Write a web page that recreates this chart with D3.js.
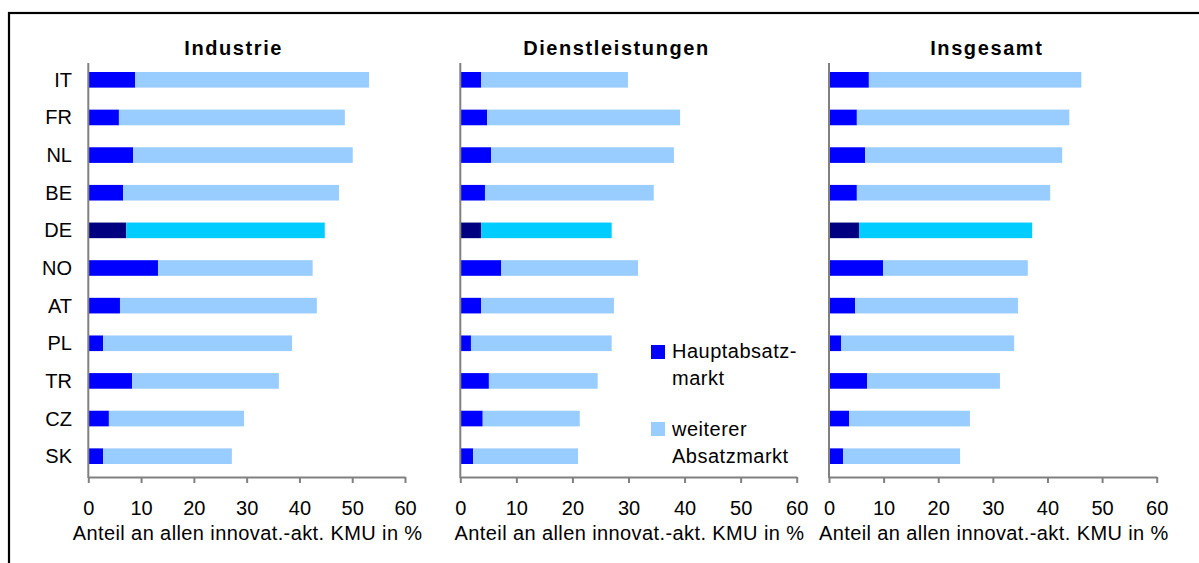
<!DOCTYPE html>
<html><head><meta charset="utf-8">
<script src="https://cdn.jsdelivr.net/npm/d3@7"></script>
<style>
html,body{margin:0;padding:0;background:#fff;}
svg{display:block;font-family:"Liberation Sans",Arial,sans-serif;}
</style></head>
<body>
<svg id="chart" width="1199" height="563"></svg>
<script>
const categories = ["IT","FR","NL","BE","DE","NO","AT","PL","TR","CZ","SK"];
const panelTitles = ["Industrie","Dienstleistungen","Insgesamt"];
const seriesNames = ["Hauptabsatz-\nmarkt","weiterer\nAbsatzmarkt"];
const xTicks = [0,10,20,30,40,50,60];
const axisTitle = "Anteil an allen innovat.-akt. KMU in %";

const industrieHaupt    = [8.9, 5.8, 8.5, 6.6, 7.2, 13.2, 6.0, 2.8, 8.3, 3.9, 2.8];
const industrieWeiterer = [44.3, 42.8, 41.6, 40.9, 37.6, 29.3, 37.3, 35.8, 27.8, 25.6, 24.4];
const dienstHaupt       = [3.7, 4.8, 5.5, 4.4, 3.7, 7.3, 3.7, 1.9, 5.1, 4.0, 2.3];
const dienstWeiterer    = [26.2, 34.4, 32.6, 30.1, 23.3, 24.4, 23.7, 25.1, 19.4, 17.3, 18.7];
const gesamtHaupt       = [7.3, 5.1, 6.6, 5.1, 5.5, 9.9, 4.8, 2.2, 7.0, 3.7, 2.6];
const gesamtWeiterer    = [38.9, 38.9, 36.1, 35.4, 31.7, 26.5, 29.8, 31.7, 24.3, 22.1, 21.4];

const panelsData = [
  [industrieHaupt, industrieWeiterer],
  [dienstHaupt, dienstWeiterer],
  [gesamtHaupt, gesamtWeiterer]
];

const colors = {haupt:"#0000FF", weiter:"#99CCFF", hauptDE:"#000080", weiterDE:"#00CCFF"};
const highlight = "DE";

const svg = d3.select("#chart");
// outer frame
svg.append("rect").attr("x",9).attr("y",13).attr("width",1300).attr("height",700)
  .attr("fill","none").attr("stroke","#000").attr("stroke-width",2.2);

const panelX = [[88.3,405],[460.3,796.7],[829,1156.7]];
const titleShift = [-13,-12,-6];
const plotTop = 63, plotBottom = 477;
const y = d3.scaleBand().domain(categories).range([61,475]).paddingInner(0.585).paddingOuter(0.2925);

panelsData.forEach((pd, pi) => {
  const x = d3.scaleLinear().domain([0,60]).range(panelX[pi]);
  const g = svg.append("g");
  const rows = categories.map((c,i)=>({cat:c, haupt:pd[0][i], weiter:pd[1][i]}));
  const stack = d3.stack().keys(["haupt","weiter"])(rows);
  stack.forEach(layer => {
    g.selectAll(null).data(layer).enter().append("rect")
      .attr("x", d => x(d[0]))
      .attr("width", d => x(d[1]) - x(d[0]))
      .attr("y", d => y(d.data.cat))
      .attr("height", y.bandwidth())
      .attr("fill", d => d.data.cat === highlight
          ? (layer.key === "haupt" ? colors.hauptDE : colors.weiterDE)
          : (layer.key === "haupt" ? colors.haupt : colors.weiter));
  });
  // x axis
  const ax = g.append("g").attr("transform",`translate(0,${plotBottom})`)
    .call(d3.axisBottom(x).tickValues(xTicks).tickSize(6).tickSizeOuter(0).tickPadding(8));
  ax.select(".domain").attr("stroke","#808080").attr("stroke-width",2);
  ax.selectAll(".tick line").attr("stroke","#808080").attr("stroke-width",2);
  ax.selectAll(".tick text").attr("font-size",20).attr("font-family","Liberation Sans, Arial, sans-serif")
    .attr("fill","#000").attr("dy",null).attr("y",38);
  // y axis line
  g.append("line").attr("x1",x(0)).attr("x2",x(0)).attr("y1",plotTop).attr("y2",plotBottom+1)
    .attr("stroke","#808080").attr("stroke-width",2);
  // title
  g.append("text").attr("x", (panelX[pi][0]+panelX[pi][1])/2 + titleShift[pi]).attr("y",55)
    .attr("text-anchor","middle").attr("font-weight","bold").attr("font-size",20)
    .attr("letter-spacing","1.6px").text(panelTitles[pi]);
  // axis title
  g.append("text").attr("x", (panelX[pi][0]+panelX[pi][1])/2 + 1).attr("y",540)
    .attr("text-anchor","middle").attr("font-size",20).attr("letter-spacing","0.4px")
    .text(axisTitle);
  if (pi === 0) {
    g.selectAll(null).data(categories).enter().append("text")
      .attr("x",72).attr("y", d => y(d) + y.bandwidth()/2 + 7)
      .attr("text-anchor","end").attr("font-size",20).text(d => d);
  }
});

// legend
const legend = svg.append("g");
const legItems = [
  {name:seriesNames[0], color:colors.haupt, sy:345, ty:[358,385]},
  {name:seriesNames[1], color:colors.weiter, sy:422, ty:[436,463]}
];
legItems.forEach(it => {
  legend.append("rect").attr("x",651).attr("y",it.sy).attr("width",14).attr("height",14).attr("fill",it.color);
  it.name.split("\n").forEach((line,li) => {
    legend.append("text").attr("x",672).attr("y",it.ty[li]).attr("font-size",20)
      .attr("letter-spacing","0.5px").text(line);
  });
});
</script>
</body></html>
